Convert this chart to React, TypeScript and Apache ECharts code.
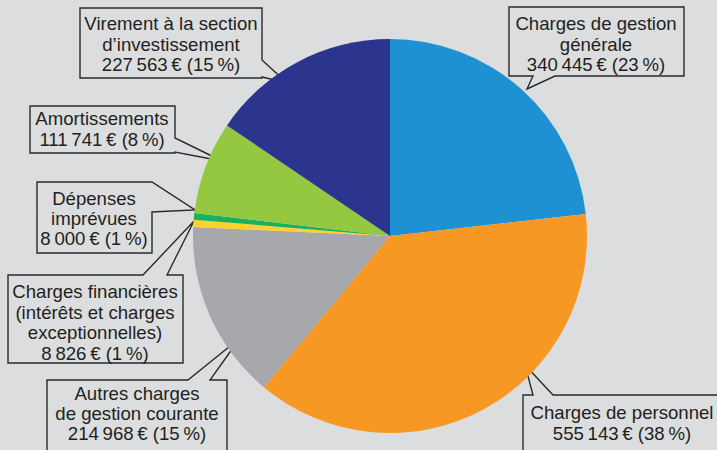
import React, { useEffect, useRef } from "react";
import * as echarts from "echarts";

const categories = [
  "Charges de gestion générale",
  "Charges de personnel",
  "Autres charges de gestion courante",
  "Charges financières (intérêts et charges exceptionnelles)",
  "Dépenses imprévues",
  "Amortissements",
  "Virement à la section d’investissement",
];
const values = [340445, 555143, 214968, 8826, 8000, 111741, 227563];
const percents = [23, 38, 15, 1, 1, 8, 15];
const labelLines = [
  ["Charges de gestion", "générale"],
  ["Charges de personnel"],
  ["Autres charges", "de gestion courante"],
  ["Charges financières", "(intérêts et charges", "exceptionnelles)"],
  ["Dépenses", "imprévues"],
  ["Amortissements"],
  ["Virement à la section", "d’investissement"],
];
const colors = ["#1d91d2", "#f79824", "#a6a8ab", "#fdd22f", "#1bb05e", "#93c840", "#2b358d"];

// callout layout: [x0, y0, x1, y1], side, a, b, tip, text center x, line center ys
const layouts: any[] = [
  { r: [509, 7, 684, 76], side: "bottom", a: 533, b: 555, tip: [527, 89], cx: 596, ys: [22, 43, 63] },
  { r: [523, 395, 730, 470], side: "top", a: 533, b: 553, tip: [525, 365], cx: 622, ys: [411, 432] },
  { r: [47, 380, 227, 470], side: "top", a: 188, b: 210, tip: [240, 338], cx: 137, ys: [392, 412, 432] },
  { r: [8, 275, 183, 363], side: "top", a: 143, b: 167, tip: [194, 221], cx: 95, ys: [290, 311, 331, 352] },
  { r: [37, 182, 152, 253], side: "right", a: 182, b: 212, tip: [195, 210], cx: 94, ys: [197, 217, 237] },
  { r: [30, 106, 175, 153], side: "right", a: 138, b: 152, tip: [222, 161], cx: 102, ys: [117, 138] },
  { r: [80, 8, 262, 78], side: "right", a: 60, b: 77, tip: [287, 83], cx: 171, ys: [22, 43, 63] },
];

const fmtNum = (v: number) =>
  String(v).replace(/\B(?=(\d{3})+(?!\d))/g, "\u2009");

function bubble(l: any): number[][] {
  const [x0, y0, x1, y1] = l.r;
  const { side, a, b, tip } = l;
  if (side === "top")
    return [[x0, y0], [a, y0], tip, [b, y0], [x1, y0], [x1, y1], [x0, y1]];
  if (side === "right")
    return [[x0, y0], [x1, y0], [x1, a], tip, [x1, b], [x1, y1], [x0, y1]];
  return [[x0, y0], [x1, y0], [x1, y1], [b, y1], tip, [a, y1], [x0, y1]];
}

export default function App() {
  const ref = useRef<HTMLDivElement>(null);
  useEffect(() => {
    document.body.style.margin = "0";
    const chart = echarts.init(ref.current!, null, { renderer: "svg" });
    const font = "18.6px 'Liberation Sans', Arial, Helvetica, sans-serif";
    const graphics: any[] = [];
    layouts.forEach((l, i) => {
      graphics.push({
        type: "polygon",
        shape: { points: bubble(l) },
        style: { fill: "none", stroke: "#2a2a2a", lineWidth: 1.4 },
        silent: true,
      });
      const lines = [
        ...labelLines[i],
        `${fmtNum(values[i])}\u2009€ (${percents[i]}\u2009%)`,
      ];
      lines.forEach((t, j) => {
        graphics.push({
          type: "text",
          x: l.cx,
          y: l.ys[j] + 1,
          style: {
            text: t,
            font,
            fill: "#231f20",
            textAlign: "center",
            textVerticalAlign: "middle",
          },
          silent: true,
        });
      });
    });
    chart.setOption({
      animation: false,
      backgroundColor: "#dcdddf",
      color: colors,
      series: [
        {
          type: "pie",
          center: [390, 236],
          radius: 197,
          startAngle: 90,
          clockwise: true,
          silent: true,
          label: { show: false },
          labelLine: { show: false },
          itemStyle: { borderWidth: 0 },
          emphasis: { disabled: true },
          data: categories.map((name, i) => ({ name, value: values[i] })),
        },
      ],
      graphic: graphics,
    });
    return () => chart.dispose();
  }, []);
  return <div ref={ref} style={{ width: 717, height: 450 }} />;
}
